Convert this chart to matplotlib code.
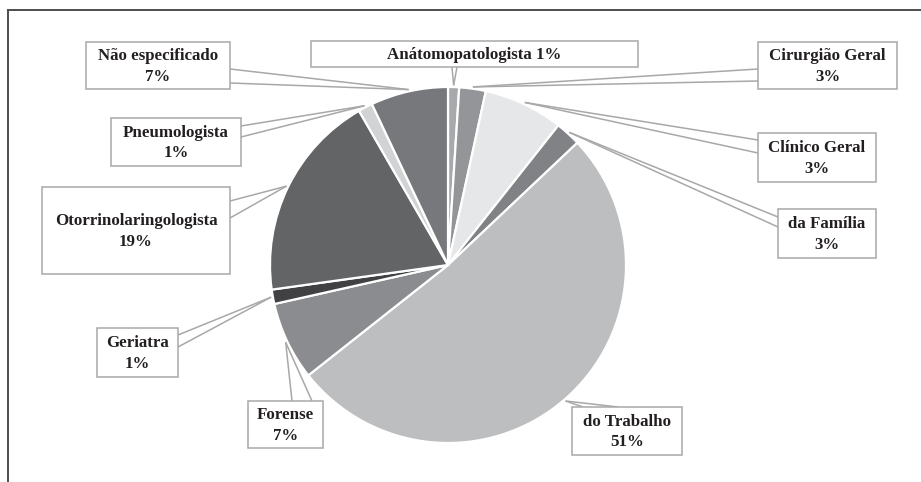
import matplotlib
matplotlib.use("Agg")
import matplotlib.pyplot as plt
from matplotlib.patches import Rectangle
from matplotlib.lines import Line2D
import numpy as np

# slice order: clockwise from 12 o'clock
names = ["Anátomopatologista", "Cirurgião Geral", "Clínico Geral", "da Família",
         "do Trabalho", "Forense", "Geriatra", "Otorrinolaringologista",
         "Pneumologista", "Não especificado"]
shares = [1.0, 2.4, 7.2, 2.3, 51.2, 7.1, 1.3, 18.8, 1.3, 7.0]
pct_text = ["1%", "3%", "3%", "3%", "51%", "7%", "1%", "19%", "1%", "7%"]
colors = ["#a7a9ac", "#939598", "#e6e7e8", "#808285", "#bcbec0",
          "#8a8c8f", "#414042", "#636466", "#d1d3d4", "#77787b"]

W, H = 921, 482
fig = plt.figure(figsize=(W / 100, H / 100), dpi=100)
ax = fig.add_axes([0, 0, 1, 1])

cx, cy, r = 448, H - 265, 178
wedges, _ = ax.pie(shares, colors=colors, startangle=90, counterclock=False,
                   center=(cx, cy), radius=r,
                   wedgeprops=dict(edgecolor="white", linewidth=1.6))
ax.set_xlim(0, W)
ax.set_ylim(0, H)
ax.set_aspect("auto")
ax.axis("off")

# callout boxes (pixel coords, top origin): box and pointer base points
boxes = [
    ((311, 41, 638, 67), [(452, 67), (457, 67)]),
    ((758, 42, 897, 89), [(758, 69), (758, 81)]),
    ((758, 133, 876, 182), [(758, 140), (758, 153)]),
    ((778, 209, 876, 258), [(778, 217), (778, 227)]),
    ((572, 407, 682, 455), [(583, 407), (618, 407)]),
    ((248, 401, 323, 448), [(292, 401), (312, 401)]),
    ((97, 328, 178, 377), [(178, 335), (178, 347)]),
    ((42, 187, 230, 274), [(230, 201), (230, 218)]),
    ((111, 118, 241, 166), [(241, 126), (241, 137)]),
    ((86, 42, 230, 89), [(230, 69), (230, 83)]),
]

edge = "#a8a8a8"
font = dict(family="Liberation Serif", fontweight="bold", fontsize=12.2, color="#231f20")

for i, (w, (box, base)) in enumerate(zip(wedges, boxes)):
    mid = np.radians((w.theta1 + w.theta2) / 2)
    tip = (cx + r * 1.01 * np.cos(mid), cy + r * 1.01 * np.sin(mid))
    for bx, by in base:
        ax.plot([bx, tip[0]], [H - by, tip[1]], color=edge, lw=1.1, zorder=3,
                solid_capstyle="butt")
    x0, y0, x1, y1 = box
    ax.add_patch(Rectangle((x0, H - y1), x1 - x0, y1 - y0, facecolor="white",
                           edgecolor=edge, lw=1.1, zorder=4))
    if i == 0:
        label = names[i] + " " + pct_text[i]
    else:
        label = names[i] + "\n" + pct_text[i]
    ax.text((x0 + x1) / 2, H - (y0 + y1) / 2 - 1, label, ha="center", va="center",
            linespacing=1.35, zorder=5, **font)

# outer frame: top and left edges only
fig.add_artist(Line2D([8 / W, 1], [1 - 10 / H, 1 - 10 / H], color="#4d4d4d", lw=1.4))
fig.add_artist(Line2D([8 / W, 8 / W], [0, 1 - 10 / H], color="#4d4d4d", lw=1.4))

fig.savefig("out.png", dpi=100)
